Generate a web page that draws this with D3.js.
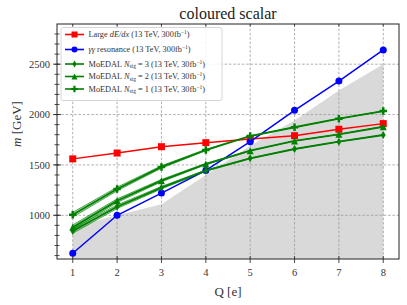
<!DOCTYPE html>
<html>
<head>
<meta charset="utf-8">
<script src="https://cdn.jsdelivr.net/npm/d3@7"></script>
<style>
  body { margin: 0; background: #fff; }
  svg { display: block; font-family: "Liberation Serif", "DejaVu Serif", serif; }
</style>
</head>
<body>
<div id="chart"></div>
<script>
// data
var charges = [1, 2, 3, 4, 5, 6, 7, 8];
var dedx = [1560, 1618, 1681, 1721, 1758, 1790, 1854, 1910];
var diphoton = [623, 1000, 1220, 1445, 1731, 2042, 2333, 2641];
var moedal3 = [845, 1085, 1274, 1443, 1566, 1658, 1731, 1797];
var moedal2 = [880, 1145, 1344, 1509, 1641, 1738, 1804, 1879];
var moedal1 = [1005, 1261, 1480, 1648, 1787, 1874, 1959, 2035];
var moedalSpread = [24, 18, 12, 7, 3, 0, 0, 0];
var excluded = [880, 1000, 1110, 1400, 1690, 1940, 2240, 2500];
var xTicks = [1, 2, 3, 4, 5, 6, 7, 8];
var yTicks = [1000, 1500, 2000, 2500];
var yMinor = d3.range(600, 2900, 100);

var width = 407, height = 305;
var margin = { left: 57, right: 8, top: 24, bottom: 46 };

var svg = d3.select("#chart").append("svg")
    .attr("width", width)
    .attr("height", height);

var x = d3.scaleLinear().domain([0.645, 8.355]).range([margin.left, width - margin.right]);
var y = d3.scaleLinear().domain([566, 2899]).range([height - margin.bottom, margin.top]);

svg.append("clipPath").attr("id", "plotclip")
    .append("rect")
    .attr("x", x.range()[0]).attr("y", y.range()[1])
    .attr("width", x.range()[1] - x.range()[0])
    .attr("height", y.range()[0] - y.range()[1]);

var plot = svg.append("g").attr("clip-path", "url(#plotclip)");

// excluded (grey) region
var area = d3.area()
    .x(function (d, i) { return x(charges[i]); })
    .y0(y(y.domain()[0]))
    .y1(function (d) { return y(d); });
plot.append("path")
    .attr("d", area(excluded))
    .attr("fill", "#d9d9d9");

// grid
plot.selectAll(".gx").data(xTicks).enter().append("line")
    .attr("x1", function (d) { return x(d); }).attr("x2", function (d) { return x(d); })
    .attr("y1", y.range()[0]).attr("y2", y.range()[1])
    .attr("stroke", "#9a9a9a").attr("stroke-width", 0.8).attr("stroke-dasharray", "2.5,1.8");
plot.selectAll(".gy").data(yTicks).enter().append("line")
    .attr("y1", function (d) { return y(d); }).attr("y2", function (d) { return y(d); })
    .attr("x1", x.range()[0]).attr("x2", x.range()[1])
    .attr("stroke", "#9a9a9a").attr("stroke-width", 0.8).attr("stroke-dasharray", "2.5,1.8");

// marker shapes
function markerPath(kind, s) {
    var h = s / 2;
    if (kind === "square") return "M" + (-h) + "," + (-h) + "h" + s + "v" + s + "h" + (-s) + "Z";
    if (kind === "circle") return d3.symbol(d3.symbolCircle, Math.PI * h * h)();
    if (kind === "diamond") return "M0," + (-h) + "L" + (h * 0.6) + ",0L0," + h + "L" + (-h * 0.6) + ",0Z";
    if (kind === "triangle") return "M0," + (-h) + "L" + h + "," + h + "L" + (-h) + "," + h + "Z";
    // filled plus
    var t = s / 6;
    return "M" + (-t) + "," + (-h) + "h" + (2 * t) + "v" + (h - t) + "h" + (h - t) + "v" + (2 * t) +
        "h" + (t - h) + "v" + (h - t) + "h" + (-2 * t) + "v" + (t - h) + "h" + (t - h) + "v" + (-2 * t) +
        "h" + (h - t) + "Z";
}

var line = d3.line()
    .x(function (d, i) { return x(charges[i]); })
    .y(function (d) { return y(d); });

// MoEDAL bands
[moedal3, moedal2, moedal1].forEach(function (vals) {
    var band = d3.area()
        .x(function (d, i) { return x(charges[i]); })
        .y0(function (d, i) { return y(d - moedalSpread[i]); })
        .y1(function (d, i) { return y(d + moedalSpread[i]); });
    plot.append("path").attr("d", band(vals))
        .attr("fill", "#008000").attr("fill-opacity", 0.3)
        .attr("stroke", "#008000").attr("stroke-width", 0.8).attr("stroke-opacity", 0.8);
});

var series = [
    { vals: dedx, color: "#ff0000", marker: "square", size: 7, lw: 1.5 },
    { vals: diphoton, color: "#0000ff", marker: "circle", size: 7, lw: 1.5 },
    { vals: moedal3, color: "#008000", marker: "diamond", size: 8, lw: 1.8 },
    { vals: moedal2, color: "#008000", marker: "triangle", size: 7, lw: 1.8 },
    { vals: moedal1, color: "#008000", marker: "plus", size: 7.5, lw: 1.8 }
];
series.forEach(function (s) {
    plot.append("path").attr("d", line(s.vals))
        .attr("fill", "none").attr("stroke", s.color).attr("stroke-width", s.lw);
    plot.selectAll(null).data(s.vals).enter().append("path")
        .attr("d", markerPath(s.marker, s.size))
        .attr("transform", function (d, i) { return "translate(" + x(charges[i]) + "," + y(d) + ")"; })
        .attr("fill", s.color);
});

// frame
svg.append("rect")
    .attr("x", x.range()[0]).attr("y", y.range()[1])
    .attr("width", x.range()[1] - x.range()[0])
    .attr("height", y.range()[0] - y.range()[1])
    .attr("fill", "none").attr("stroke", "#222").attr("stroke-width", 1);

// ticks
var y0 = y.range()[0], x0 = x.range()[0];
svg.selectAll(".xt").data(xTicks).enter().append("line")
    .attr("x1", function (d) { return x(d); }).attr("x2", function (d) { return x(d); })
    .attr("y1", y0 - 3).attr("y2", y0 + 4)
    .attr("stroke", "#222").attr("stroke-width", 0.8);
svg.selectAll(".xtt").data(xTicks).enter().append("line")
    .attr("x1", function (d) { return x(d); }).attr("x2", function (d) { return x(d); })
    .attr("y1", y.range()[1]).attr("y2", y.range()[1] + 2.5)
    .attr("stroke", "#222").attr("stroke-width", 0.8);
svg.selectAll(".xl").data(xTicks).enter().append("text")
    .attr("x", function (d) { return x(d); }).attr("y", y0 + 16.5)
    .attr("text-anchor", "middle").attr("font-size", 10.5).attr("fill", "#333")
    .text(function (d) { return d; });

svg.selectAll(".ym").data(yMinor).enter().append("line")
    .attr("y1", function (d) { return y(d); }).attr("y2", function (d) { return y(d); })
    .attr("x1", x0 - 2.5).attr("x2", x0 + 2.5)
    .attr("stroke", "#222").attr("stroke-width", 0.8);
svg.selectAll(".yt").data(yTicks).enter().append("line")
    .attr("y1", function (d) { return y(d); }).attr("y2", function (d) { return y(d); })
    .attr("x1", x0 - 4).attr("x2", x0 + 4)
    .attr("stroke", "#222").attr("stroke-width", 0.8);
svg.selectAll(".yl").data(yTicks).enter().append("text")
    .attr("x", x0 - 7).attr("y", function (d) { return y(d) + 3.6; })
    .attr("text-anchor", "end").attr("font-size", 10.5).attr("fill", "#333")
    .text(function (d) { return d; });

// titles
svg.append("text").attr("x", 228).attr("y", 19)
    .attr("text-anchor", "middle").attr("font-size", 16).attr("fill", "#222")
    .text("coloured scalar");
svg.append("text").attr("x", 228).attr("y", 296)
    .attr("text-anchor", "middle").attr("font-size", 13).attr("fill", "#333")
    .text("Q [e]");
var yl = svg.append("text")
    .attr("transform", "translate(21,124) rotate(-90)")
    .attr("text-anchor", "middle").attr("font-size", 13).attr("fill", "#333");
yl.append("tspan").attr("font-style", "italic").text("m");
yl.append("tspan").text(" [GeV]");

// legend
var legendItems = [
    { color: "#ff0000", marker: "square", size: 6, parts: [["Large ", ""], ["dE/dx", "i"], [" (13 TeV, 300fb", ""], ["\u22121", "sup"], [")", ""]] },
    { color: "#0000ff", marker: "circle", size: 6, parts: [["\u03b3\u03b3", "i"], [" resonance (13 TeV, 300fb", ""], ["\u22121", "sup"], [")", ""]] },
    { color: "#008000", marker: "diamond", size: 7, parts: [["MoEDAL ", ""], ["N", "i"], ["sig", "sub"], [" = 3 (13 TeV, 30fb", ""], ["\u22121", "sup"], [")", ""]] },
    { color: "#008000", marker: "triangle", size: 6, parts: [["MoEDAL ", ""], ["N", "i"], ["sig", "sub"], [" = 2 (13 TeV, 30fb", ""], ["\u22121", "sup"], [")", ""]] },
    { color: "#008000", marker: "plus", size: 6.5, parts: [["MoEDAL ", ""], ["N", "i"], ["sig", "sub"], [" = 1 (13 TeV, 30fb", ""], ["\u22121", "sup"], [")", ""]] }
];
var legendY = [34.5, 49.5, 64, 76.5, 89];

svg.append("rect")
    .attr("x", 61).attr("y", 27.5).attr("width", 161).attr("height", 73)
    .attr("rx", 2).attr("fill", "#fff").attr("fill-opacity", 0.85)
    .attr("stroke", "#cccccc").attr("stroke-width", 0.8);

legendItems.forEach(function (it, k) {
    var ly = legendY[k];
    svg.append("line").attr("x1", 65).attr("x2", 84).attr("y1", ly).attr("y2", ly)
        .attr("stroke", it.color).attr("stroke-width", 1.6);
    svg.append("path").attr("d", markerPath(it.marker, it.size))
        .attr("transform", "translate(74.5," + ly + ")").attr("fill", it.color);
    var t = svg.append("text").attr("x", 88.5).attr("y", ly + 2.7)
        .attr("font-size", 8.3).attr("fill", "#333");
    var prev = "";
    it.parts.forEach(function (p) {
        var ts = t.append("tspan").text(p[0]);
        if (p[1] === "i") ts.attr("font-style", "italic");
        if (p[1] === "sup") ts.attr("font-size", 5.5).attr("dy", -3);
        if (p[1] === "sub") ts.attr("font-size", 5.5).attr("dy", 1.5);
        // back to the baseline after a superscript or subscript
        if (p[1] !== "sup" && p[1] !== "sub") {
            if (prev === "sup") ts.attr("dy", 3);
            if (prev === "sub") ts.attr("dy", -1.5);
        }
        prev = p[1];
    });
});
</script>
</body>
</html>
